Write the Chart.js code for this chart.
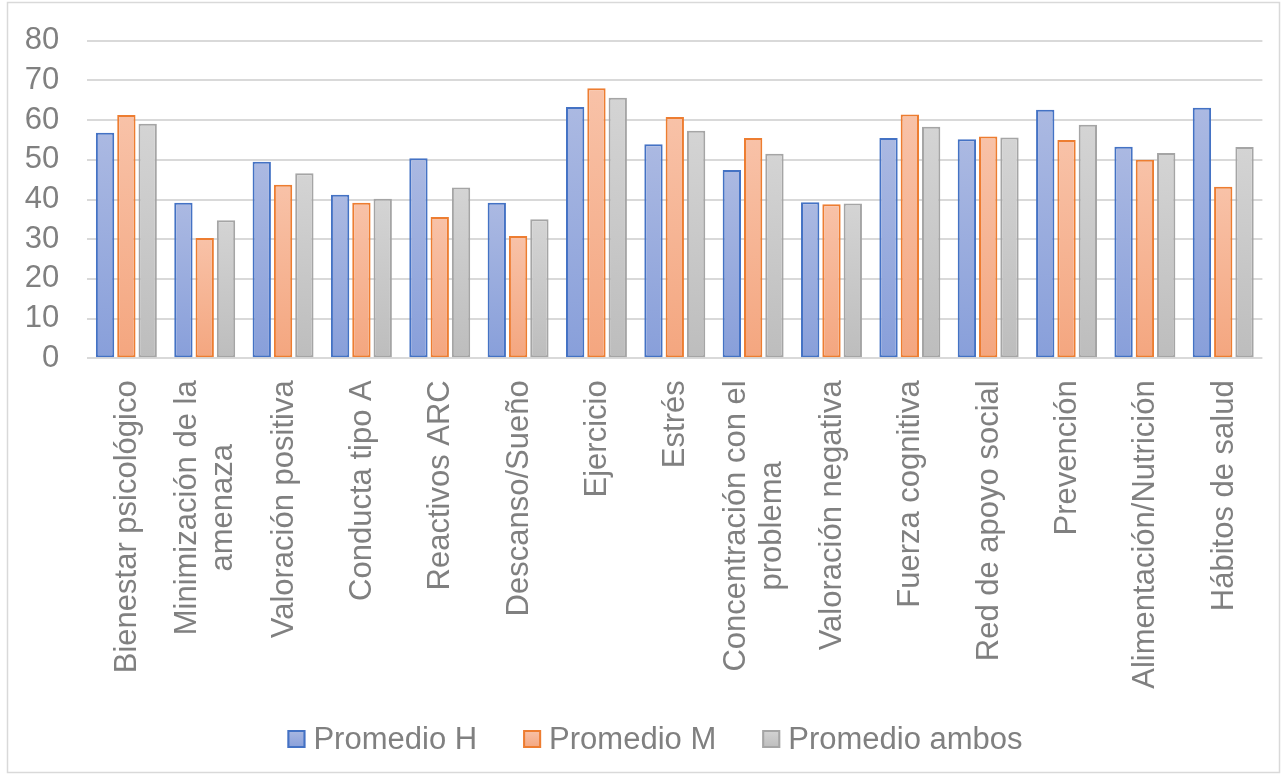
<!DOCTYPE html>
<html lang="es">
<head>
<meta charset="utf-8">
<title>Promedios por dimensión</title>
<script src="https://cdn.jsdelivr.net/npm/chart.js@4.4.1/dist/chart.umd.min.js"></script>
<style>
  html, body { margin: 0; padding: 0; background: #ffffff; }
  #wrap { width: 1282px; height: 776px; }
</style>
</head>
<body>
<div id="wrap"><canvas id="chart" width="1282" height="776"></canvas></div>
<script>
// Category labels (each entry lists the lines of the label)
const categories = [
  ['Bienestar psicológico'],
  ['Minimización de la', 'amenaza'],
  ['Valoración positiva'],
  ['Conducta tipo A'],
  ['Reactivos ARC'],
  ['Descanso/Sueño'],
  ['Ejercicio'],
  ['Estrés'],
  ['Concentración con el', 'problema'],
  ['Valoración negativa'],
  ['Fuerza cognitiva'],
  ['Red de apoyo social'],
  ['Prevención'],
  ['Alimentación/Nutrición'],
  ['Hábitos de salud']
];

const seriesNames = ['Promedio H', 'Promedio M', 'Promedio ambos'];

const promedioH = [56.8, 39.2, 49.5, 41.2, 50.4, 39.2, 63.3, 53.9, 47.4, 39.3, 55.5, 55.2, 62.6, 53.3, 63.1];
const promedioM = [61.3, 30.3, 43.7, 39.2, 35.6, 30.8, 68.0, 60.8, 55.5, 38.8, 61.4, 55.9, 55.0, 50.0, 43.2];
const promedioAmbos = [59.1, 34.8, 46.6, 40.2, 43.0, 35.0, 65.6, 57.3, 51.5, 39.0, 58.3, 55.6, 58.8, 51.7, 53.2];

const yTicks = [0, 10, 20, 30, 40, 50, 60, 70, 80];

// Styling
const FONT = '"Liberation Sans", Arial, sans-serif';
const TEXT_COLOR = '#808080';
const FONT_SIZE = 31;
const GRID_COLOR = '#d9d9d9';

const palette = [
  { top: '#abb9e2', bottom: '#889fda', border: '#4472c4' },
  { top: '#f8c2a8', bottom: '#f4a67f', border: '#ed7d31' },
  { top: '#d4d4d4', bottom: '#bdbdbd', border: '#a5a5a5' }
];

// Vertical gradient per bar, from its top down to the zero line
function barGradient(colors) {
  return (ctx) => {
    const chart = ctx.chart;
    if (!chart.chartArea || ctx.type !== 'data' || !chart.scales.y) return colors.bottom;
    const yScale = chart.scales.y;
    const yTop = yScale.getPixelForValue(ctx.raw);
    const yBase = yScale.getPixelForValue(0);
    if (!isFinite(yTop) || !isFinite(yBase) || yTop === yBase) return colors.bottom;
    const g = chart.ctx.createLinearGradient(0, yTop, 0, yBase);
    g.addColorStop(0, colors.top);
    g.addColorStop(1, colors.bottom);
    return g;
  };
}

const seriesValues = [promedioH, promedioM, promedioAmbos];

const datasets = seriesValues.map((vals, i) => ({
  label: seriesNames[i],
  data: vals,
  backgroundColor: barGradient(palette[i]),
  borderColor: palette[i].border,
  borderWidth: 2,
  borderSkipped: false,
  categoryPercentage: 0.816,
  barPercentage: 0.86
}));

// Chart frame and white background
const framePlugin = {
  id: 'frame',
  beforeDraw(chart) {
    const c = chart.ctx;
    c.save();
    c.fillStyle = '#ffffff';
    c.fillRect(0, 0, chart.width, chart.height);
    c.strokeStyle = '#d9d9d9';
    c.lineWidth = 1.5;
    c.strokeRect(7.5, 2.5, chart.width - 10, chart.height - 6);
    c.restore();
  }
};

// Rotated category labels; multi-line labels are centred line by line
const categoryLabelPlugin = {
  id: 'categoryLabels',
  afterDraw(chart) {
    const c = chart.ctx;
    const xScale = chart.scales.x;
    const lineHeight = 36;
    const topY = chart.chartArea.bottom + 22;
    c.save();
    c.font = FONT_SIZE + 'px ' + FONT;
    c.fillStyle = TEXT_COLOR;
    c.textBaseline = 'middle';
    c.textAlign = 'center';
    categories.forEach((lines, i) => {
      const x = xScale.getPixelForValue(i);
      const maxW = Math.max(...lines.map(l => c.measureText(l).width));
      c.save();
      c.translate(x, topY);
      c.rotate(-Math.PI / 2);
      lines.forEach((line, j) => {
        const off = (j - (lines.length - 1) / 2) * lineHeight;
        c.fillText(line, -maxW / 2, off + 1);
      });
      c.restore();
    });
    c.restore();
  }
};

// Legend along the bottom edge
const legendPlugin = {
  id: 'bottomLegend',
  afterDraw(chart) {
    const c = chart.ctx;
    const box = 18, gapText = 8, gapItem = 46;
    const baseline = 749;
    c.save();
    c.font = FONT_SIZE + 'px ' + FONT;
    const widths = chart.data.datasets.map(ds => box + gapText + c.measureText(ds.label).width);
    const total = widths.reduce((a, b) => a + b, 0) + gapItem * (widths.length - 1);
    let x = 655 - total / 2;
    chart.data.datasets.forEach((ds, i) => {
      const col = palette[i];
      const by = baseline - 19;
      const g = c.createLinearGradient(0, by, 0, by + box);
      g.addColorStop(0, col.top);
      g.addColorStop(1, col.bottom);
      c.fillStyle = g;
      c.fillRect(x, by, box, box);
      c.strokeStyle = col.border;
      c.lineWidth = 2;
      c.strokeRect(x + 1, by + 1, box - 2, box - 2);
      c.fillStyle = TEXT_COLOR;
      c.textBaseline = 'alphabetic';
      c.textAlign = 'left';
      c.fillText(ds.label, x + box + gapText, baseline);
      x += widths[i] + gapItem;
    });
    c.restore();
  }
};

new Chart(document.getElementById('chart'), {
  type: 'bar',
  data: {
    labels: categories,
    datasets: datasets
  },
  options: {
    responsive: false,
    devicePixelRatio: 1,
    animation: false,
    events: [],
    layout: {
      padding: { left: 0, right: 19.6, top: 40.7, bottom: 0 }
    },
    plugins: {
      legend: { display: false },
      tooltip: { enabled: false }
    },
    scales: {
      x: {
        grid: { display: false },
        border: { display: false },
        ticks: { display: false },
        afterFit(scale) { scale.height = 776 - 358.3; }
      },
      y: {
        min: yTicks[0],
        max: yTicks[yTicks.length - 1],
        afterBuildTicks(scale) { scale.ticks = yTicks.map(v => ({ value: v })); },
        afterFit(scale) {
          scale.width = 87.2;
          scale.paddingTop = 0;
          scale.paddingBottom = 0;
        },
        grid: { color: GRID_COLOR, lineWidth: 2, drawTicks: false },
        border: { display: false },
        ticks: {
          autoSkip: false,
          padding: 28,
          color: TEXT_COLOR,
          font: { family: FONT, size: FONT_SIZE }
        }
      }
    }
  },
  plugins: [framePlugin, categoryLabelPlugin, legendPlugin]
});
</script>
</body>
</html>
